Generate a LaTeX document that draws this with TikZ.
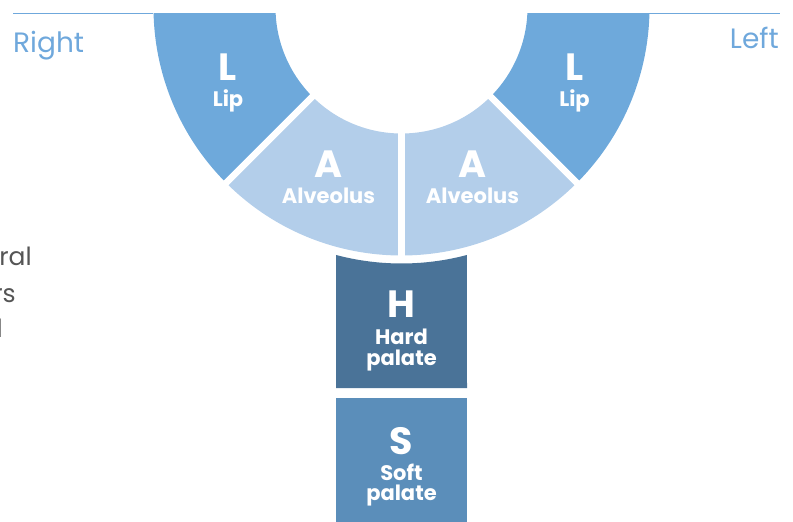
\documentclass[tikz,border=0pt]{standalone}
\usepackage{fontspec}
\setmainfont{Poppins}
\definecolor{lipblue}{HTML}{6EA9DB}
\definecolor{alvblue}{HTML}{B3CEEA}
\definecolor{hardblue}{HTML}{4A7398}
\definecolor{softblue}{HTML}{5B8EBA}
\definecolor{sideblue}{HTML}{6FA8DC}
\definecolor{cutgrey}{HTML}{555555}
\begin{document}
\begin{tikzpicture}[x=1pt, y=-1pt,
    letter/.style = {anchor=base, text=white, inner sep=0pt, font=\fontsize{38}{38}\selectfont\bfseries},
    word/.style = {anchor=base, text=white, inner sep=0pt, font=\fontsize{21}{21}\selectfont\bfseries},
    side/.style = {anchor=base, text=sideblue, inner sep=0pt, font=\fontsize{28}{28}\selectfont},
    cut/.style = {anchor=base east, text=cutgrey, inner sep=0pt, font=\fontsize{25}{25}\selectfont}]
    \useasboundingbox (0,0) rectangle (793,522);

    % the ring, cut at the top line
    \begin{scope}[shift={(401.5,7.5)}]
        \clip (-400,5.5) rectangle (400,600);
        \fill[lipblue] (180:126) -- (180:248) arc[start angle=180, end angle=135, radius=248]
            -- (135:126) arc[start angle=135, end angle=180, radius=126] -- cycle;
        \fill[alvblue] (135:126) -- (135:248) arc[start angle=135, end angle=45, radius=248]
            -- (45:126) arc[start angle=45, end angle=135, radius=126] -- cycle;
        \fill[lipblue] (45:126) -- (45:248) arc[start angle=45, end angle=0, radius=248]
            -- (0:126) arc[start angle=0, end angle=45, radius=126] -- cycle;
        % gaps between the parts
        \foreach \a in {45,90,135}
            \draw[white, line width=6.5pt] (\a:120) -- (\a:255);
        % hard palate, its top follows the ring
        \fill[hardblue] (-65.5,380.5) -- (104.8:256) arc[start angle=104.8, end angle=75.2, radius=256]
            -- (65.5,380.5) -- cycle;
    \end{scope}
    \fill[softblue] (336,398) rectangle (467,530);

    % top lines
    \draw[sideblue, line width=1pt] (13,13) -- (153,13);
    \draw[sideblue, line width=1pt] (649,13) -- (780,13);
    \node[side, anchor=base west] (right) at (13,52) {Right};
    \node[side, anchor=base east] (left) at (779,48) {Left};

    % labels
    \node[letter] (lipR) at (228,80) {L};
    \node[word] (lipRt) at (228,106) {Lip};
    \node[letter] (lipL) at (574.5,80) {L};
    \node[word] (lipLt) at (574.5,106) {Lip};
    \node[letter] (alvR) at (328.5,177) {A};
    \node[word] (alvRt) at (328.5,203) {Alveolus};
    \node[letter] (alvL) at (472.5,177) {A};
    \node[word] (alvLt) at (472.5,203) {Alveolus};
    \node[letter] (hard) at (401.5,317) {H};
    \node[word] (hardt) at (401.5,344) {Hard};
    \node[word] (hardp) at (401.5,365) {palate};
    \node[letter] (soft) at (401.5,454) {S};
    \node[word] (softt) at (401.5,480) {Soft};
    \node[word] (softp) at (401.5,500) {palate};

    % text cut off at the left edge
    \node[cut] (cut1) at (32,265) {ral};
    \node[cut] (cut2) at (16,302) {rs};
    \node[cut] (cut3) at (3,337) {l};
\end{tikzpicture}
\end{document}
